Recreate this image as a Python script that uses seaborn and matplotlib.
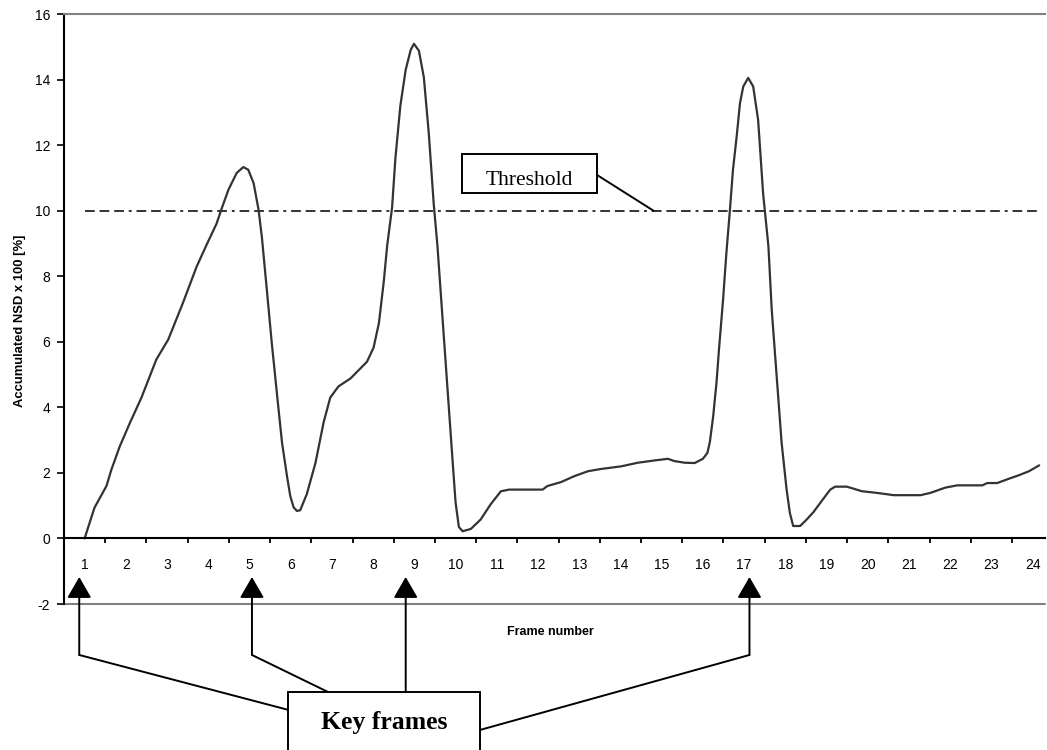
import numpy as np
import pandas as pd
import seaborn as sns
import matplotlib.pyplot as plt
from matplotlib.patches import Rectangle

# accumulated NSD curve (frame position, value)
frame_pos = [1.00, 1.24, 1.53, 1.65, 1.85, 2.09, 2.38, 2.74, 3.03, 3.39, 3.72, 3.96,
             4.20, 4.33, 4.49, 4.69, 4.85, 4.97, 5.10, 5.22, 5.30, 5.42, 5.54, 5.70,
             5.79, 5.91, 5.99, 6.07, 6.15, 6.23, 6.39, 6.60, 6.80, 6.96, 7.16, 7.45,
             7.85, 8.01, 8.14, 8.26, 8.34, 8.46, 8.54, 8.66, 8.79, 8.91, 8.99, 9.11,
             9.23, 9.35, 9.47, 9.56, 9.68, 9.80, 9.92, 10.00, 10.08, 10.17, 10.37, 10.61,
             10.85, 11.10, 11.30, 11.58, 12.11, 12.23, 12.56, 12.88, 13.21, 13.53, 14.02, 14.42,
             14.83, 15.15, 15.31, 15.56, 15.80, 16.00, 16.11, 16.17, 16.25, 16.33, 16.39, 16.49,
             16.57, 16.65, 16.73, 16.82, 16.90, 16.98, 17.10, 17.22, 17.34, 17.46, 17.59, 17.67,
             17.79, 17.91, 18.03, 18.11, 18.19, 18.36, 18.52, 18.68, 18.88, 19.09, 19.21, 19.49,
             19.65, 19.86, 20.22, 20.63, 21.28, 21.52, 21.88, 22.17, 22.78, 22.90, 23.14, 23.42,
             23.67, 23.91, 24.16]
nsd = [0.00, 0.94, 1.60, 2.10, 2.80, 3.50, 4.30, 5.46, 6.07, 7.20, 8.30, 8.96,
       9.60, 10.08, 10.64, 11.15, 11.33, 11.25, 10.84, 10.03, 9.20, 7.60, 5.97, 4.00,
       2.92, 1.90, 1.29, 0.95, 0.84, 0.86, 1.35, 2.30, 3.55, 4.30, 4.64, 4.88,
       5.39, 5.82, 6.57, 7.86, 8.93, 10.10, 11.60, 13.20, 14.30, 14.90, 15.09, 14.88,
       14.07, 12.36, 10.20, 8.93, 6.78, 4.64, 2.50, 1.10, 0.35, 0.22, 0.29, 0.58,
       1.04, 1.44, 1.49, 1.49, 1.49, 1.60, 1.72, 1.90, 2.05, 2.12, 2.20, 2.31,
       2.38, 2.43, 2.36, 2.31, 2.30, 2.43, 2.61, 2.95, 3.73, 4.75, 5.76, 7.29,
       8.71, 9.93, 11.25, 12.27, 13.28, 13.79, 14.05, 13.79, 12.77, 10.54, 8.91, 6.98,
       4.95, 2.92, 1.50, 0.78, 0.38, 0.38, 0.58, 0.80, 1.14, 1.49, 1.58, 1.58,
       1.52, 1.44, 1.39, 1.32, 1.32, 1.39, 1.55, 1.62, 1.62, 1.69, 1.69, 1.82,
       1.93, 2.05, 2.23]

frames = list(range(1, 25))
y_ticks = [-2, 0, 2, 4, 6, 8, 10, 12, 14, 16]
threshold = 10
key_frames = [1, 5, 9, 17]
# arrow x positions as drawn in the figure (hand placed in the original)
arrow_x = [0.87, 5.06, 8.79, 17.13]

sns.set_style('white')
plt.rcParams['font.family'] = ['Liberation Sans', 'DejaVu Sans']
plt.rcParams['axes.unicode_minus'] = False
for k in ['text.color', 'axes.labelcolor', 'xtick.color', 'ytick.color']:
    plt.rcParams[k] = 'black'

fig = plt.figure(figsize=(10.47, 7.5), dpi=100)
ax = fig.add_axes([64 / 1047, 1 - 604 / 750, 981 / 1047, 590 / 750])

df = pd.DataFrame({'frame': frame_pos, 'nsd': nsd})
sns.lineplot(data=df, x='frame', y='nsd', ax=ax, estimator=None, sort=False,
             color='#333333', lw=1.6)

# threshold line
ax.hlines(threshold, frames[0], frames[-1] + 0.2, color='#333333', lw=1.4,
          linestyles=[(0, (5, 2.5, 5, 2.5, 5, 2.5, 1.5, 2.5))])

ax.set_xlim(0.5, 24.3)
ax.set_ylim(-2, 16)

# spines: left black, x axis through zero, gray lines at top and bottom
ax.spines['right'].set_visible(False)
ax.spines['left'].set_color('black')
ax.spines['left'].set_linewidth(1.5)
ax.spines['bottom'].set_position(('data', 0))
ax.spines['bottom'].set_color('black')
ax.spines['bottom'].set_linewidth(1.5)
ax.spines['top'].set_color('#808080')
ax.spines['top'].set_linewidth(1.5)
ax.axhline(-2, color='#808080', lw=1.5, clip_on=False)

ax.set_yticks(y_ticks)
ax.set_yticklabels([str(t) for t in y_ticks])
ax.tick_params(axis='y', direction='out', length=5, width=1.2, pad=5,
               labelsize=10, left=True)

ax.set_xticks([f + 0.5 for f in frames[:-1]])
ax.set_xticklabels([])
ax.tick_params(axis='x', which='major', direction='out', length=3.5, width=1.3, bottom=True)
ax.set_xticks(frames, minor=True)
ax.set_xticklabels([str(f) for f in frames], minor=True)
ax.tick_params(axis='x', which='minor', length=0, pad=14, labelsize=10)

ax.set_ylabel('Accumulated NSD x 100 [%]', fontsize=9.4, fontweight='bold')
ax.yaxis.set_label_coords(-0.039, 0.48)
ax.set_xlabel('Frame number', fontsize=9, fontweight='bold')
ax.xaxis.set_label_coords(0.496, -0.038)

# Threshold callout (text bottom is cut off by the box, as in the original)
ax.add_patch(Rectangle((10.15, 10.55), 3.28, 1.18, facecolor='white',
                       edgecolor='black', lw=1.4, zorder=5))
clip = Rectangle((10.15, 10.86), 3.28, 0.87, transform=ax.transData, visible=False)
ax.add_patch(clip)
t = ax.text(11.79, 10.78, 'Threshold', family=['Liberation Serif', 'DejaVu Serif'],
            fontsize=15.5, ha='center', va='baseline', zorder=6)
t.set_clip_path(clip)
ax.plot([13.43, 14.80], [11.09, threshold], color='black', lw=1.4, zorder=5)

# Key frames callout (below the axes)
ax.add_patch(Rectangle((5.94, -6.8), 4.66, 2.11, facecolor='white',
                       edgecolor='black', lw=1.4, clip_on=False, zorder=5))
ax.text(8.27, -5.80, 'Key frames', family=['Liberation Serif', 'DejaVu Serif'],
        fontsize=18.5, fontweight='bold', ha='center', va='baseline',
        clip_on=False, zorder=6)

tip_y = -1.175
elbow_y = -3.555
box_top = -4.69
for kf, ax_x in zip(key_frames, arrow_x):
    base = box_top if kf == 9 else elbow_y
    ax.annotate('', xy=(ax_x, tip_y), xytext=(ax_x, base),
                arrowprops=dict(arrowstyle='-|>,head_length=1.3,head_width=0.75',
                                mutation_scale=10, color='black', lw=1.4,
                                shrinkA=0, shrinkB=0),
                annotation_clip=False, zorder=6)
ax.plot([arrow_x[0], 5.94], [elbow_y, -5.23], color='black', lw=1.4, clip_on=False)
ax.plot([arrow_x[1], 6.915], [elbow_y, box_top], color='black', lw=1.4, clip_on=False)
ax.plot([arrow_x[3], 10.6], [elbow_y, -5.84], color='black', lw=1.4, clip_on=False)

fig.savefig('out.png', dpi=100)
